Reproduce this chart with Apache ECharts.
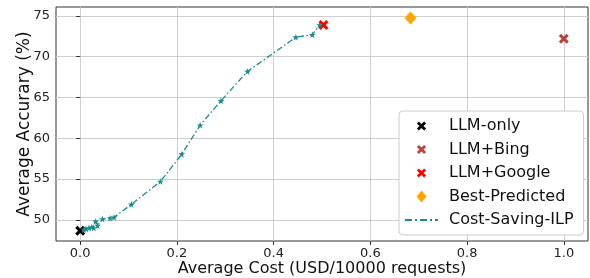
<!DOCTYPE html>
<html>
<head>
<meta charset="utf-8">
<script src="https://cdn.jsdelivr.net/npm/echarts@6/dist/echarts.min.js"></script>
<style>
  html, body { margin: 0; padding: 0; background: #fff; }
  #chart { width: 590px; height: 278px; }
</style>
</head>
<body>
<div id="chart"></div>
<script>
// reference points (single runs)
const llmOnly = [[0.0, 48.65]];
const llmBing = [[1.0, 72.2]];
const llmGoogle = [[0.503, 73.9]];
const bestPredicted = [[0.683, 74.75]];

// Cost-Saving-ILP curve
const ilpCost = [0.008, 0.012, 0.018, 0.024, 0.028, 0.032, 0.036, 0.046, 0.062, 0.070,
                 0.106, 0.166, 0.210, 0.248, 0.291, 0.346, 0.446, 0.480, 0.495];
const ilpAcc = [48.8, 48.9, 49.0, 49.1, 49.0, 49.8, 49.3, 50.1, 50.2, 50.3,
                51.9, 54.7, 58.05, 61.6, 64.6, 68.2, 72.4, 72.7, 73.9];

const xTicks = [0, 0.2, 0.4, 0.6, 0.8, 1.0];
const yTicks = [50, 55, 60, 65, 70, 75];

const font = 'DejaVu Sans';
const teal = '#1a8c8f';
const xMark = 'path://M0,2.2L2.2,0L5,2.8L7.8,0L10,2.2L7.2,5L10,7.8L7.8,10L5,7.2L2.2,10L0,7.8L2.8,5Z';
// same X with a little empty room so it sits smaller in the legend
const xMarkSmall = 'path://M0,2.2L2.2,0L5,2.8L7.8,0L10,2.2L7.2,5L10,7.8L7.8,10L5,7.2L2.2,10L0,7.8L2.8,5ZM-1.5,-1.5L-1.5,-1.5ZM11.5,11.5L11.5,11.5Z';
const diamond = 'path://M5,0L10,6L5,12L0,6Z';
const star = 'path://M50,0L61,35L98,35L68,57L79,91L50,70L21,91L32,57L2,35L39,35Z';
const dashDot = 'path://M0,0h7v2h-7zM10,0h2v2h-2zM15,0h7v2h-7zM25,0h2v2h-2zM30,0h3v2h-3z';

const chart = echarts.init(document.getElementById('chart'));

chart.setOption({
  animation: false,
  textStyle: { fontFamily: font },
  grid: { left: 56, right: 2, top: 7, bottom: 37, show: true, borderColor: '#333', borderWidth: 1,
          outerBoundsMode: 'none' },
  xAxis: {
    type: 'value', min: -0.05, max: 1.05,
    name: 'Average Cost (USD/10000 requests)', nameLocation: 'middle', nameGap: 20, nameMoveOverlap: false,
    nameTextStyle: { fontSize: 16, color: '#111', fontFamily: font },
    axisLine: { show: false },
    axisTick: { show: true, length: 4, lineStyle: { color: '#333' }, customValues: xTicks },
    axisLabel: { customValues: xTicks, fontSize: 13, color: '#222', margin: 6, formatter: v => v.toFixed(1) },
    splitLine: { show: true, lineStyle: { color: '#cfcfcf', width: 1 } }
  },
  yAxis: {
    type: 'value', min: 47.4, max: 76.1,
    name: 'Average Accurary (%)', nameLocation: 'middle', nameGap: 23, nameMoveOverlap: false,
    nameTextStyle: { fontSize: 17, color: '#111', fontFamily: font },
    axisLine: { show: false },
    axisTick: { show: true, length: 4, lineStyle: { color: '#333' }, customValues: yTicks },
    axisLabel: { customValues: yTicks, fontSize: 13, color: '#222', margin: 6 },
    splitLine: { show: true, lineStyle: { color: '#cfcfcf', width: 1 } }
  },
  legend: {
    orient: 'vertical', left: 399, top: 111,
    itemWidth: 33, itemHeight: 12, itemGap: 7.5,
    padding: [7, 10, 7, 6],
    backgroundColor: '#fff', borderColor: '#cccccc', borderWidth: 1, borderRadius: 4,
    textStyle: { fontSize: 16, color: '#111', fontFamily: font, padding: [0, 0, 0, 6] },
    data: [
      { name: 'LLM-only', icon: xMarkSmall },
      { name: 'LLM+Bing', icon: xMarkSmall },
      { name: 'LLM+Google', icon: xMarkSmall },
      { name: 'Best-Predicted', icon: diamond },
      { name: 'Cost-Saving-ILP', icon: dashDot }
    ]
  },
  series: [
    { name: 'LLM-only', type: 'scatter', data: llmOnly, symbol: xMark, symbolSize: 10,
      itemStyle: { color: '#000', opacity: 1 }, z: 3 },
    { name: 'LLM+Bing', type: 'scatter', data: llmBing, symbol: xMark, symbolSize: 10,
      itemStyle: { color: '#b5473a', opacity: 1 }, z: 3 },
    { name: 'LLM+Google', type: 'scatter', data: llmGoogle, symbol: xMark, symbolSize: 10,
      itemStyle: { color: '#ff0000', opacity: 1 }, z: 3 },
    { name: 'Best-Predicted', type: 'scatter', data: bestPredicted, symbol: diamond, symbolSize: [12, 13],
      itemStyle: { color: '#ffa500', opacity: 1 }, z: 3 },
    { name: 'Cost-Saving-ILP', type: 'line', data: ilpCost.map((c, i) => [c, ilpAcc[i]]),
      symbol: star, symbolSize: 7, showSymbol: true,
      lineStyle: { color: teal, width: 1.3, type: [6, 2.5, 1.5, 2.5] },
      itemStyle: { color: teal }, z: 4 }
  ]
});
</script>
</body>
</html>
